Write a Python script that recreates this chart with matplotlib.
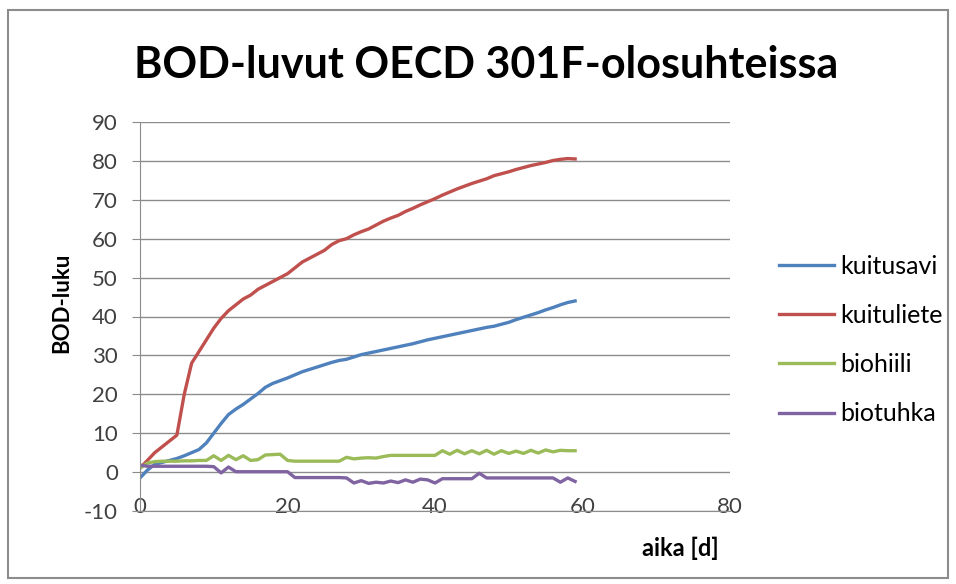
import matplotlib.pyplot as plt
from matplotlib.patches import Rectangle

plt.rcParams['font.family'] = ['Lato', 'DejaVu Sans']
plt.rcParams['axes.unicode_minus'] = False

days = list(range(60))

kuitusavi = [-1.5, 0.5, 2.0, 2.5, 3.0, 3.5, 4.2, 5.0, 5.8, 7.5,
             10.0, 12.5, 14.8, 16.2, 17.4, 18.8, 20.2, 21.8, 22.8, 23.5,
             24.2, 25.0, 25.8, 26.4, 27.0, 27.6, 28.2, 28.7, 29.0, 29.6,
             30.2, 30.6, 31.0, 31.4, 31.8, 32.2, 32.6, 33.0, 33.5, 34.0,
             34.4, 34.8, 35.2, 35.6, 36.0, 36.4, 36.8, 37.2, 37.5, 38.0,
             38.5, 39.2, 39.8, 40.4, 41.0, 41.7, 42.3, 43.0, 43.6, 44.0]

kuituliete = [1.0, 3.0, 5.0, 6.5, 8.0, 9.5, 20.0, 28.0, 31.0, 34.0,
              37.0, 39.5, 41.5, 43.0, 44.5, 45.5, 47.0, 48.0, 49.0, 50.0,
              51.0, 52.5, 54.0, 55.0, 56.0, 57.0, 58.5, 59.5, 60.0, 61.0,
              61.8, 62.5, 63.5, 64.5, 65.3, 66.0, 67.0, 67.8, 68.7, 69.5,
              70.3, 71.2, 72.0, 72.8, 73.5, 74.2, 74.8, 75.4, 76.2, 76.7,
              77.2, 77.8, 78.3, 78.8, 79.2, 79.6, 80.1, 80.4, 80.6, 80.5]

biohiili = [1.0, 2.3, 2.7, 2.8, 2.8, 2.8, 2.9, 2.9, 3.0, 3.0,
            4.2, 3.0, 4.3, 3.2, 4.2, 3.0, 3.2, 4.4, 4.5, 4.6,
            3.0, 2.8, 2.8, 2.8, 2.8, 2.8, 2.8, 2.8, 3.8, 3.4,
            3.6, 3.7, 3.6, 4.0, 4.3, 4.3, 4.3, 4.3, 4.3, 4.3,
            4.3, 5.5, 4.6, 5.6, 4.7, 5.5, 4.7, 5.6, 4.6, 5.5,
            4.8, 5.4, 4.8, 5.6, 4.9, 5.7, 5.2, 5.6, 5.5, 5.5]

biotuhka = [1.8, 1.5, 1.5, 1.5, 1.5, 1.5, 1.5, 1.5, 1.5, 1.5,
            1.4, -0.2, 1.3, 0.1, 0.1, 0.1, 0.1, 0.1, 0.1, 0.1,
            0.1, -1.4, -1.4, -1.4, -1.4, -1.4, -1.4, -1.4, -1.5, -2.8,
            -2.2, -2.9, -2.6, -2.8, -2.3, -2.7, -2.0, -2.6, -1.8, -2.0,
            -2.8, -1.7, -1.7, -1.7, -1.7, -1.7, -0.3, -1.5, -1.5, -1.5,
            -1.5, -1.5, -1.5, -1.5, -1.5, -1.5, -1.5, -2.6, -1.5, -2.4]

series = [('kuitusavi', kuitusavi, '#4F81BD'),
          ('kuituliete', kuituliete, '#C0504D'),
          ('biohiili', biohiili, '#9BBB59'),
          ('biotuhka', biotuhka, '#8064A2')]

fig = plt.figure(figsize=(9.56, 5.84), dpi=100)
ax = fig.add_axes([140/956, 73/584, 590/956, 389/584])

for name, vals, col in series:
    ax.plot(days, vals, color=col, lw=2.4, label=name)

ax.set_xlim(0, 80)
ax.set_ylim(-10, 90)
ax.set_xticks([0, 20, 40, 60, 80])
ax.set_yticks(range(-10, 91, 10))
ax.yaxis.grid(True, color='#8c8c8c', lw=1)
ax.set_axisbelow(True)
for s in ['top', 'right']:
    ax.spines[s].set_visible(False)
for s in ['left', 'bottom']:
    ax.spines[s].set_color('#8c8c8c')
ax.tick_params(axis='y', length=6, color='#8c8c8c', labelsize=16, pad=10,
               labelcolor='#404040')
ax.tick_params(axis='x', length=0, labelsize=16, pad=-10, labelcolor='#404040')

fig.text(486/956, 1 - 65/584, 'BOD-luvut OECD 301F-olosuhteissa',
         ha='center', va='center', fontsize=31, fontweight='bold')
fig.text(62/956, 1 - 303/584, 'BOD-luku', rotation=90, ha='center',
         va='center', fontsize=16, fontweight='bold')
fig.text(680/956, 1 - 548/584, 'aika [d]', ha='center', va='center',
         fontsize=17, fontweight='bold')

fig.legend(loc='center left', bbox_to_anchor=(756/956, 1 - 340/584),
           frameon=False, fontsize=18, handlelength=2.2, handletextpad=0.25,
           labelspacing=1.05)

fig.patches.append(Rectangle((8/956, 6/584), 940/956, 568/584,
                             transform=fig.transFigure, fill=False,
                             edgecolor='#8c8c8c', lw=1.5))

fig.savefig('out.png', dpi=100)
